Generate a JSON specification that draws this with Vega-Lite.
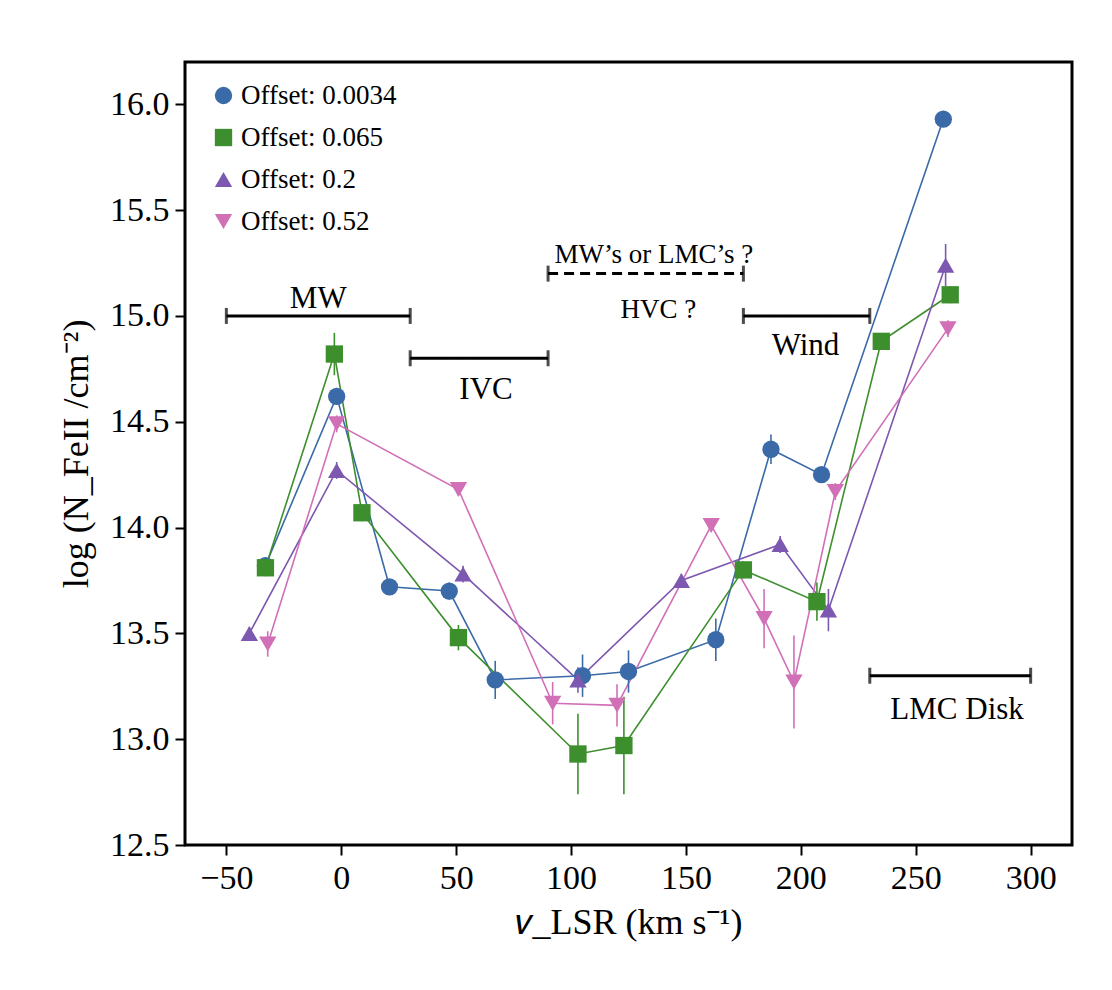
{
  "$schema": "https://vega.github.io/schema/vega-lite/v6.json",
  "width": 887,
  "height": 783,
  "autosize": "none",
  "padding": {"left": 185, "top": 62, "right": 40, "bottom": 145},
  "background": "white",
  "config": {
    "font": "Liberation Serif",
    "view": {"stroke": "black", "strokeWidth": 3},
    "axis": {"grid": false, "domain": false, "tickColor": "black", "tickWidth": 2, "tickSize": 10, "labelFontSize": 34, "labelColor": "black", "titleFontSize": 36, "titleColor": "black", "titleFontWeight": "normal", "labelPadding": 6},
    "legend": {"labelFontSize": 27, "labelColor": "black", "symbolSize": 300, "rowPadding": 14, "symbolStrokeWidth": 0}
  },
  "datasets": {
    "pts": [
      {"s": "Offset: 0.0034", "v": -33, "n": 13.82, "e": 0.04},
      {"s": "Offset: 0.0034", "v": -2, "n": 14.62, "e": 0.04},
      {"s": "Offset: 0.0034", "v": 21, "n": 13.72, "e": 0.03},
      {"s": "Offset: 0.0034", "v": 47, "n": 13.70, "e": 0.04},
      {"s": "Offset: 0.0034", "v": 67, "n": 13.28, "e": 0.09},
      {"s": "Offset: 0.0034", "v": 105, "n": 13.30, "e": 0.1},
      {"s": "Offset: 0.0034", "v": 125, "n": 13.32, "e": 0.1},
      {"s": "Offset: 0.0034", "v": 163, "n": 13.47, "e": 0.1},
      {"s": "Offset: 0.0034", "v": 187, "n": 14.37, "e": 0.07},
      {"s": "Offset: 0.0034", "v": 209, "n": 14.25, "e": 0.03},
      {"s": "Offset: 0.0034", "v": 262, "n": 15.93, "e": 0.03},
      {"s": "Offset: 0.065", "v": -33, "n": 13.81, "e": 0.04},
      {"s": "Offset: 0.065", "v": -3, "n": 14.82, "e": 0.1},
      {"s": "Offset: 0.065", "v": 9, "n": 14.07, "e": 0.04},
      {"s": "Offset: 0.065", "v": 51, "n": 13.48, "e": 0.06},
      {"s": "Offset: 0.065", "v": 103, "n": 12.93, "e": 0.19},
      {"s": "Offset: 0.065", "v": 123, "n": 12.97, "e": 0.23},
      {"s": "Offset: 0.065", "v": 175, "n": 13.80, "e": 0.04},
      {"s": "Offset: 0.065", "v": 207, "n": 13.65, "e": 0.09},
      {"s": "Offset: 0.065", "v": 235, "n": 14.88, "e": 0.03},
      {"s": "Offset: 0.065", "v": 265, "n": 15.10, "e": 0.04},
      {"s": "Offset: 0.2", "v": -40, "n": 13.50, "e": 0.03},
      {"s": "Offset: 0.2", "v": -2, "n": 14.27, "e": 0.04},
      {"s": "Offset: 0.2", "v": 53, "n": 13.78, "e": 0.04},
      {"s": "Offset: 0.2", "v": 103, "n": 13.28, "e": 0.06},
      {"s": "Offset: 0.2", "v": 148, "n": 13.75, "e": 0.03},
      {"s": "Offset: 0.2", "v": 191, "n": 13.92, "e": 0.04},
      {"s": "Offset: 0.2", "v": 212, "n": 13.61, "e": 0.1},
      {"s": "Offset: 0.2", "v": 263, "n": 15.24, "e": 0.1},
      {"s": "Offset: 0.52", "v": -32, "n": 13.45, "e": 0.06},
      {"s": "Offset: 0.52", "v": -2, "n": 14.49, "e": 0.04},
      {"s": "Offset: 0.52", "v": 51, "n": 14.18, "e": 0.03},
      {"s": "Offset: 0.52", "v": 92, "n": 13.17, "e": 0.1},
      {"s": "Offset: 0.52", "v": 120, "n": 13.16, "e": 0.1},
      {"s": "Offset: 0.52", "v": 161, "n": 14.01, "e": 0.03},
      {"s": "Offset: 0.52", "v": 184, "n": 13.57, "e": 0.14},
      {"s": "Offset: 0.52", "v": 197, "n": 13.27, "e": 0.22},
      {"s": "Offset: 0.52", "v": 215, "n": 14.17, "e": 0.04},
      {"s": "Offset: 0.52", "v": 264, "n": 14.94, "e": 0.04}
    ],
    "ranges": [
      {"name": "MW", "a": -50, "b": 30, "y": 15.0, "dash": 0},
      {"name": "IVC", "a": 30, "b": 90, "y": 14.8, "dash": 0},
      {"name": "HVC", "a": 90, "b": 175, "y": 15.2, "dash": 1},
      {"name": "Wind", "a": 175, "b": 230, "y": 15.0, "dash": 0},
      {"name": "LMC Disk", "a": 230, "b": 300, "y": 13.3, "dash": 0}
    ],
    "labels": [
      {"t": "MW", "x": -10, "y": 15.08, "fs": 31},
      {"t": "IVC", "x": 63, "y": 14.65, "fs": 31},
      {"t": "MW’s or LMC’s ?", "x": 136, "y": 15.29, "fs": 27},
      {"t": "HVC ?", "x": 138, "y": 15.03, "fs": 27},
      {"t": "Wind", "x": 202, "y": 14.86, "fs": 31},
      {"t": "LMC Disk", "x": 268, "y": 13.14, "fs": 31}
    ]
  },
  "encoding": {
    "x": {"type": "quantitative", "scale": {"domain": [-68, 318], "nice": false, "zero": false}, "axis": {"values": [-50, 0, 50, 100, 150, 200, 250, 300], "title": "𝑣_LSR (km s⁻¹)", "titlePadding": 10}},
    "y": {"type": "quantitative", "scale": {"domain": [12.5, 16.2], "nice": false, "zero": false}, "axis": {"values": [12.5, 13, 13.5, 14, 14.5, 15, 15.5, 16], "format": ".1f", "title": "log (N_FeII /cm⁻²)", "titlePadding": 14}}
  },
  "layer": [
    {
      "data": {"name": "pts"},
      "mark": {"type": "line", "strokeWidth": 1.6},
      "encoding": {
        "x": {"field": "v"}, "y": {"field": "n"},
        "color": {"field": "s", "type": "nominal", "scale": {"domain": ["Offset: 0.0034", "Offset: 0.065", "Offset: 0.2", "Offset: 0.52"], "range": ["#3b6aa8", "#3d8f2e", "#7d58b0", "#d16fb7"]}}
      }
    },
    {
      "data": {"name": "pts"},
      "mark": {"type": "errorbar", "thickness": 1.6},
      "encoding": {
        "x": {"field": "v"}, "y": {"field": "n"}, "yError": {"field": "e"},
        "color": {"field": "s", "type": "nominal"}
      }
    },
    {
      "data": {"name": "pts"},
      "mark": {"type": "point", "filled": true, "opacity": 1, "size": 300},
      "encoding": {
        "x": {"field": "v"}, "y": {"field": "n"},
        "color": {"field": "s", "type": "nominal", "legend": {"orient": "none", "legendX": 25, "legendY": 20, "title": null}},
        "shape": {"field": "s", "type": "nominal", "legend": {"orient": "none", "legendX": 25, "legendY": 20, "title": null}, "scale": {"domain": ["Offset: 0.0034", "Offset: 0.065", "Offset: 0.2", "Offset: 0.52"], "range": ["circle", "square", "triangle-up", "triangle-down"]}}
      }
    },
    {
      "data": {"name": "ranges"},
      "mark": {"type": "rule", "color": "black", "strokeWidth": 3},
      "encoding": {
        "x": {"field": "a"}, "x2": {"field": "b"}, "y": {"field": "y"},
        "strokeDash": {"field": "dash", "type": "nominal", "legend": null, "scale": {"domain": [0, 1], "range": [[1, 0], [10, 6]]}}
      }
    },
    {
      "data": {"name": "ranges"},
      "mark": {"type": "tick", "orient": "vertical", "color": "black", "thickness": 3, "size": 16},
      "encoding": {"x": {"field": "a"}, "y": {"field": "y"}}
    },
    {
      "data": {"name": "ranges"},
      "mark": {"type": "tick", "orient": "vertical", "color": "black", "thickness": 3, "size": 16},
      "encoding": {"x": {"field": "b"}, "y": {"field": "y"}}
    },
    {
      "data": {"name": "labels"},
      "mark": {"type": "text", "color": "black", "baseline": "middle"},
      "encoding": {"x": {"field": "x"}, "y": {"field": "y"}, "text": {"field": "t"}, "size": {"field": "fs", "type": "quantitative", "scale": null}}
    }
  ]
}
